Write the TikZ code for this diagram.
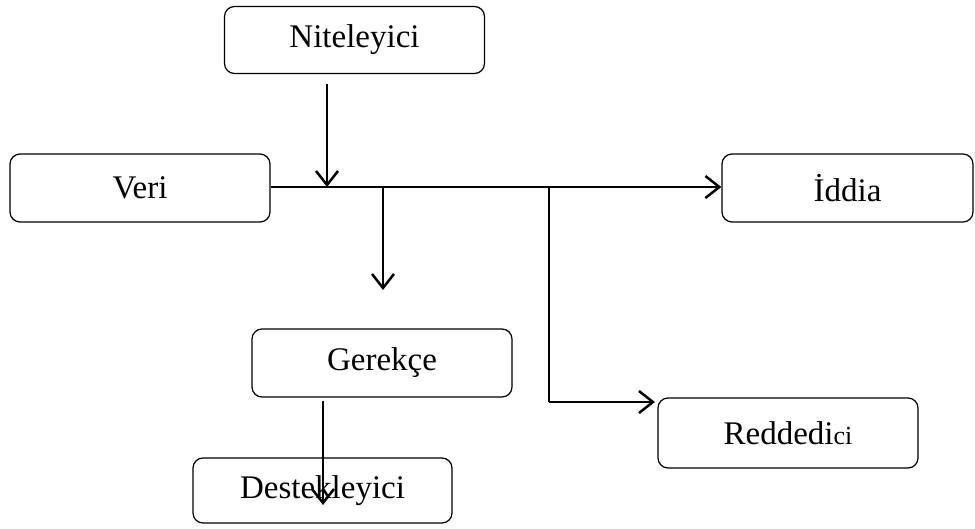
\documentclass[tikz,border=0pt]{standalone}
\usepackage{fontspec}
\setmainfont{Liberation Serif}
\usetikzlibrary{arrows.meta}
\begin{document}
\begin{tikzpicture}[x=1pt,y=-1pt,
  box/.style={draw, line width=1.2pt, rounded corners=10pt, inner sep=0pt,
    minimum width=260pt, minimum height=67pt, font=\fontsize{33}{39}\selectfont},
  arr/.style={line width=2.5pt, -{Straight Barb[length=14pt,width=22pt,line width=2.5pt]}},
  ln/.style={line width=2.5pt}]
\useasboundingbox (0,0) rectangle (975,528);
\node[box] (nit) at (354.5,40) {Niteleyici};
\node[box, minimum height=68pt] (veri) at (140,188) {Veri};
\node[box, minimum width=251pt, minimum height=68pt] (iddia) at (847.5,188) {İddia};
\node[box, minimum height=68pt] (ger) at (382,363) {Gerekçe};
\node[box, minimum width=259pt, minimum height=65pt] (dest) at (322.5,490.5) {Destekleyici};
\node[box, minimum height=70pt] (red) at (788,433) {Reddedi{\fontsize{26}{30}\selectfont ci}};
\coordinate (j1) at (327,187);
\coordinate (j2) at (383,187);
\coordinate (j3) at (549,187);
\coordinate (g2) at (383,290);
\coordinate (c3) at (549,402);
\coordinate (r3) at (655,402);
\coordinate (d1) at (323,505);
\draw[arr] (veri.east |- j1) -- (iddia.west |- j1);
\draw[arr] ([yshift=-10pt]nit.south -| j1) -- (j1);
\draw[arr] (j2) -- (g2);
\draw[ln] (j3) -- (c3);
\draw[arr] (c3) -- (r3);
\draw[arr] ([yshift=-3pt]ger.south -| d1) -- (d1);
\end{tikzpicture}
\end{document}
